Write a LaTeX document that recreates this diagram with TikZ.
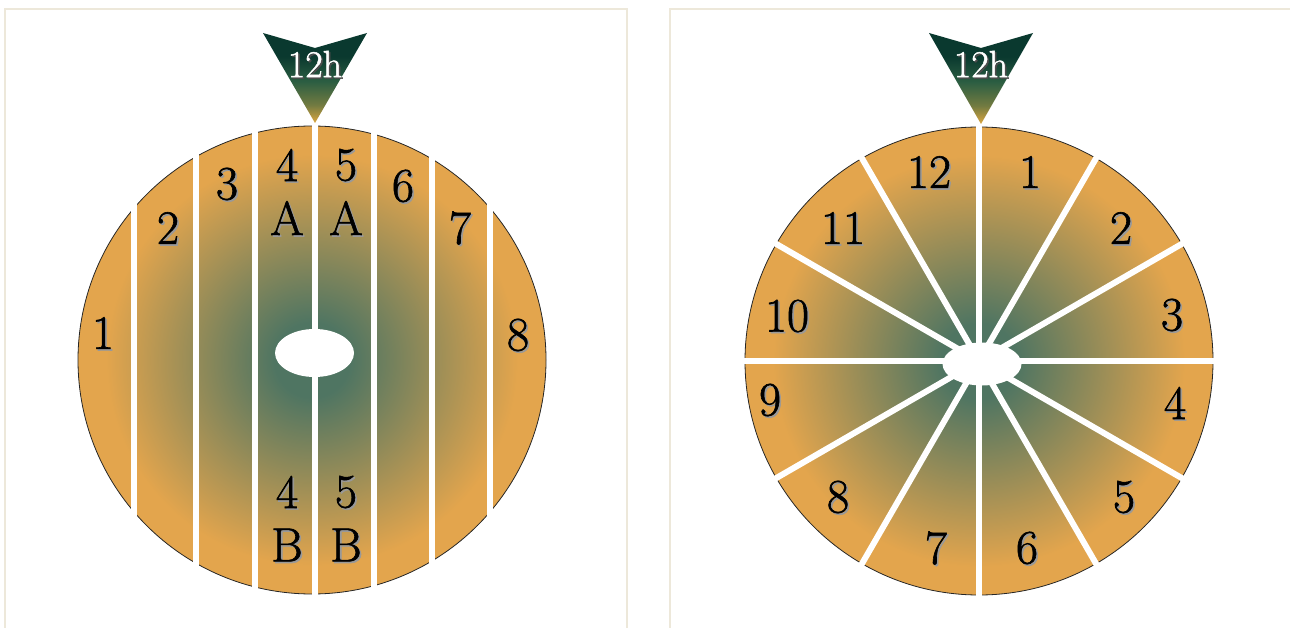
\documentclass[tikz,border=0pt]{standalone}
\usepackage{fontspec}
\newfontfamily\lblfont{Latin Modern Roman}[FakeBold=1.3]
\usetikzlibrary{calc,shapes.geometric}
\definecolor{corange}{HTML}{E3A54D}
\definecolor{cgreen}{HTML}{4F7562}
\definecolor{tdark}{HTML}{0A392F}
\definecolor{tmid}{HTML}{2C5E42}
\definecolor{tgold}{HTML}{DCA63F}
\definecolor{framecol}{HTML}{EDE8DA}
\pgfdeclareradialshading{diskshade}{\pgfpointorigin}{color(0bp)=(cgreen); color(4bp)=(cgreen); color(22bp)=(corange); color(50bp)=(corange)}
\pgfdeclareverticalshading{tipshade}{100bp}{color(0bp)=(tgold); color(25bp)=(tgold); color(35bp)=(tmid!60!tgold); color(48bp)=(tmid); color(62bp)=(tdark); color(100bp)=(tdark)}
\tikzset{
  lbl/.style={inner sep=0pt, font=\lblfont\fontsize{48}{54}\selectfont, text=black},
  lblshadow/.style={inner sep=0pt, font=\lblfont\fontsize{48}{54}\selectfont, text=black!40},
  tiplbl/.style={inner sep=0pt, font=\lblfont\fontsize{38}{42}\selectfont, text=white},
  tiplblshadow/.style={inner sep=0pt, font=\lblfont\fontsize{38}{42}\selectfont, text=black!70},
  sep/.style={draw=white, line width=6pt},
  rim/.style={draw=black!85, line width=0.8pt},
  panel/.style={draw=framecol, line width=1.5pt},
}
\newcommand\numlbl[3]{%
  \node[lblshadow] (#1s) at ($(#2)+(1.6,1.6)$) {#3};
  \node[lbl] (#1) at (#2) {#3};}
\begin{document}
\begin{tikzpicture}[x=1pt,y=-1pt]
\path[use as bounding box] (0,0) rectangle (1290,628);
\clip (0,0) rectangle (1290,628);
% panels
\draw[panel] (5,9) rectangle (627,660);
\draw[panel] (670,9) rectangle (1310,660);
% ---------------- left disk
\coordinate (L) at (312,360);
\shade[shading=diskshade] (L) circle (234);
\draw[rim] (L) circle (234);
\begin{scope}
  \clip (L) circle (238);
  \foreach \xx in {134,196,255,315,374,432,490} {
    \draw[sep] (\xx,100) -- (\xx,620);
  }
\end{scope}
\node[draw=none, fill=white, ellipse, minimum width=79pt, minimum height=48pt, inner sep=0pt] (LH) at (314.5,353) {};
\numlbl{l1}{103,333}{1}
\numlbl{l2}{168,228}{2}
\numlbl{l3}{227,184}{3}
\numlbl{l4a}{287,165}{4}
\numlbl{l4A}{287,218}{A}
\numlbl{l5a}{346,165}{5}
\numlbl{l5A}{346,218}{A}
\numlbl{l6}{403,186}{6}
\numlbl{l7}{460,228}{7}
\numlbl{l8}{518,335}{8}
\numlbl{l4b}{287,492}{4}
\numlbl{l4B}{287,545}{B}
\numlbl{l5b}{346,492}{5}
\numlbl{l5B}{346,545}{B}
% left tip
\shade[shading=tipshade] (263,33) -- (315,48) -- (367,33) -- (315,123) -- cycle;
\node[tiplblshadow] (lts) at (316.5,65.5) {12h};
\node[tiplbl] (lt) at (315,64) {12h};
% ---------------- right disk
\coordinate (R) at (979,361);
\shade[shading=diskshade] (R) circle (234);
\draw[rim] (R) circle (234);
\begin{scope}
  \clip (R) circle (238);
  \foreach \a in {0,30,...,330} {
    \draw[sep] (R) -- ++(\a:260);
  }
\end{scope}
\node[draw=none, fill=white, ellipse, minimum width=79pt, minimum height=43pt, inner sep=0pt] (RH) at (982,364) {};
\numlbl{r12}{929,172}{12}
\numlbl{r1}{1030,172}{1}
\numlbl{r2}{1121,228}{2}
\numlbl{r3}{1172,315}{3}
\numlbl{r4}{1175,403}{4}
\numlbl{r5}{1124,497}{5}
\numlbl{r6}{1027,548}{6}
\numlbl{r7}{936,548}{7}
\numlbl{r8}{838,497}{8}
\numlbl{r9}{770,400}{9}
\numlbl{r10}{787,316}{10}
\numlbl{r11}{843,228}{11}
% right tip
\shade[shading=tipshade] (929,33) -- (981,48) -- (1033,33) -- (981,124) -- cycle;
\node[tiplblshadow] (rts) at (982.5,65.5) {12h};
\node[tiplbl] (rt) at (981,64) {12h};
\end{tikzpicture}
\end{document}
